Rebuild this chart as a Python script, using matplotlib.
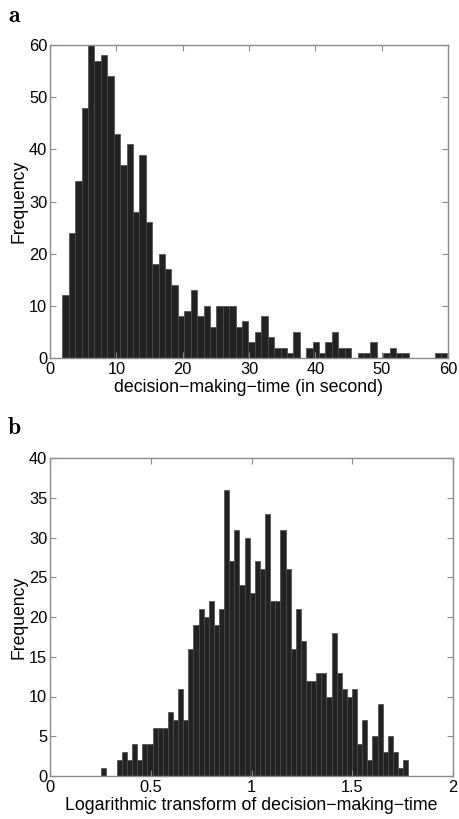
import numpy as np
import matplotlib
matplotlib.use("Agg")
import matplotlib.pyplot as plt

# panel a: histogram of decision-making-time, 60 bins
time_min = 1.86
time_max = 59.9
counts_a = [12, 24, 34, 48, 60, 57, 58, 54, 43, 37,
            41, 28, 39, 26, 18, 20, 17, 14, 8, 9,
            13, 8, 10, 6, 10, 10, 10, 6, 7, 3,
            5, 8, 4, 2, 2, 1, 5, 0, 2, 3,
            1, 3, 5, 2, 2, 0, 1, 1, 3, 0,
            1, 2, 1, 1, 0, 0, 0, 0, 1, 1]

# panel b: histogram of log10(decision-making-time), 60 bins
log_min = 0.255
log_max = 1.778
counts_b = [1, 0, 0, 2, 3, 2, 4, 2, 4, 4,
            6, 6, 6, 8, 7, 11, 7, 16, 19, 21,
            20, 22, 19, 21, 36, 27, 31, 24, 30, 23,
            27, 26, 33, 22, 22, 31, 26, 16, 21, 17,
            12, 12, 13, 13, 10, 18, 13, 11, 10, 11,
            4, 7, 2, 5, 9, 3, 5, 3, 1, 2]

xticks_a = [0, 10, 20, 30, 40, 50, 60]
yticks_a = [0, 10, 20, 30, 40, 50, 60]
xticks_b = [0, 0.5, 1, 1.5, 2]
xticklabels_b = ["0", "0.5", "1", "1.5", "2"]
yticks_b = [0, 5, 10, 15, 20, 25, 30, 35, 40]

plt.rcParams['font.family'] = ['Liberation Sans', 'DejaVu Sans']
plt.rcParams['font.size'] = 10.5


def draw_hist(ax, lo, hi, counts):
    edges = np.linspace(lo, hi, len(counts) + 1)
    ax.bar(edges[:-1], counts, width=np.diff(edges), align='edge',
           color='#222222', edgecolor='#4a4a4a', linewidth=0.5)


def style_axes(ax):
    for s in ax.spines.values():
        s.set_color('#8a8a8a')
        s.set_linewidth(1.0)
    ax.tick_params(direction='in', top=True, right=True, length=4,
                   color='#8a8a8a', labelcolor='black', labelsize=11.8)
    ax.tick_params(axis='x', pad=3)
    ax.tick_params(axis='y', pad=2)


fig = plt.figure(figsize=(4.6, 8.19), dpi=100)

ax1 = fig.add_axes([50 / 460, 1 - 358 / 819, 398 / 460, 313 / 819])
draw_hist(ax1, time_min, time_max, counts_a)
ax1.set_xlim(0, 60)
ax1.set_ylim(0, 60)
ax1.set_xticks(xticks_a)
ax1.set_yticks(yticks_a)
ax1.set_xlabel("decision\u2212making\u2212time (in second)", fontsize=12.75, labelpad=1.5)
ax1.set_ylabel("Frequency", fontsize=12.7, labelpad=1)
style_axes(ax1)

ax2 = fig.add_axes([50 / 460, 1 - 776 / 819, 403 / 460, 318 / 819])
draw_hist(ax2, log_min, log_max, counts_b)
ax2.set_xlim(0, 2)
ax2.set_ylim(0, 40)
ax2.set_xticks(xticks_b)
ax2.set_xticklabels(xticklabels_b)
ax2.set_yticks(yticks_b)
ax2.set_xlabel("Logarithmic transform of decision\u2212making\u2212time", fontsize=12.75, labelpad=1.5)
ax2.set_ylabel("Frequency", fontsize=12.7, labelpad=1)
style_axes(ax2)

fig.text(8 / 460, 1 - 22 / 819, "a", family='cmb10', fontsize=17)
fig.text(8 / 460, 1 - 434 / 819, "b", family='cmb10', fontsize=17)

fig.savefig("out.png", dpi=100)
